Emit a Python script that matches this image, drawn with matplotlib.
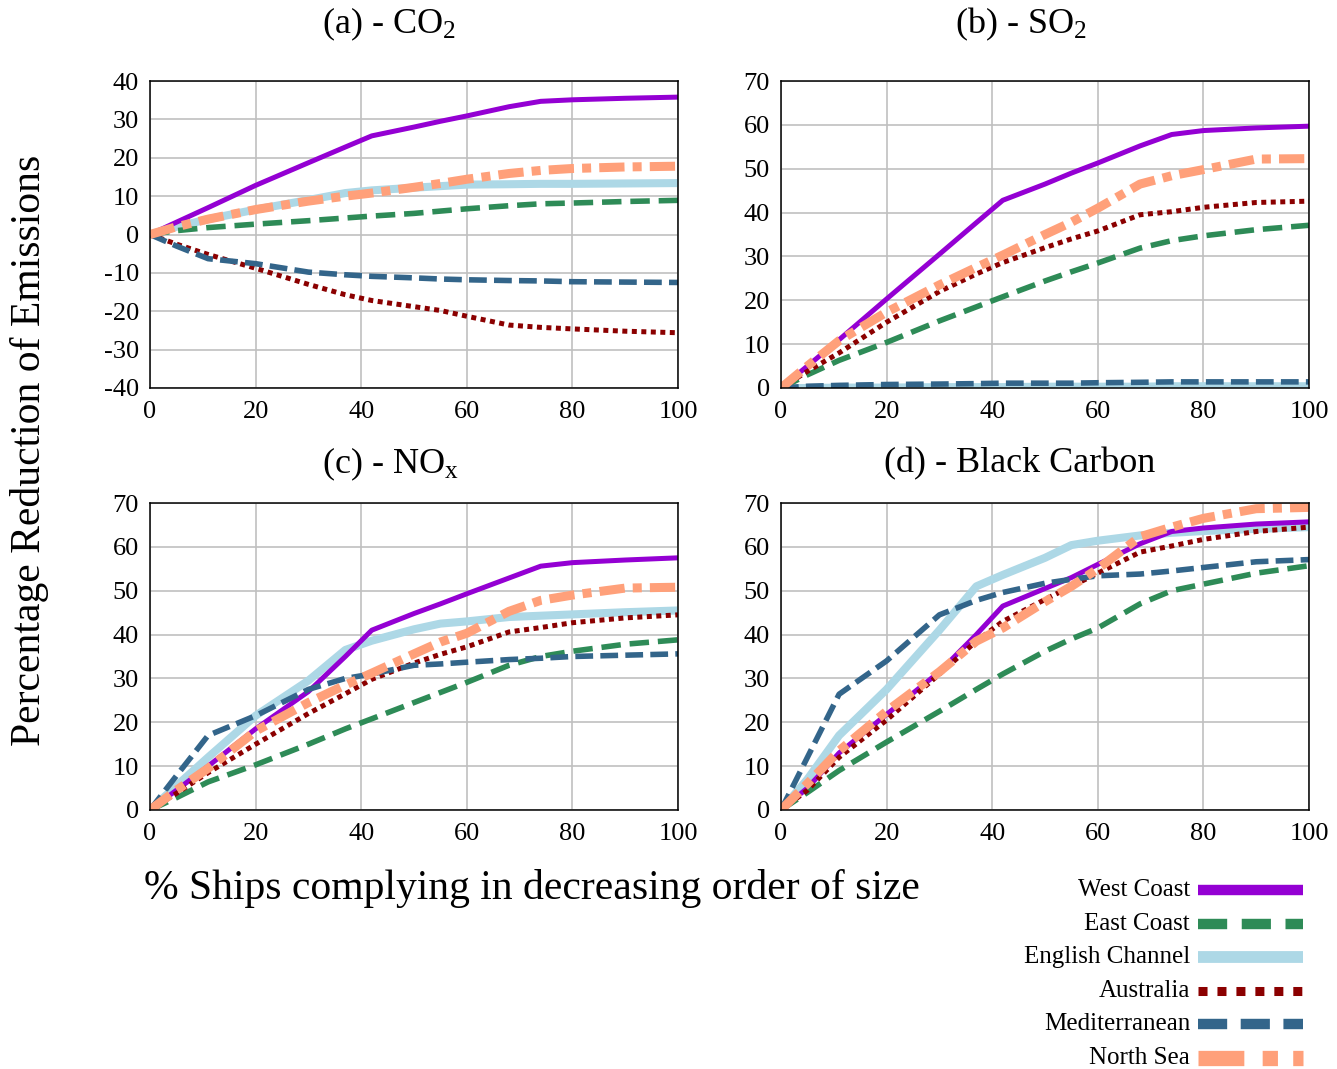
import matplotlib
matplotlib.use("Agg")
import matplotlib.pyplot as plt
from matplotlib.lines import Line2D

plt.rcParams['font.family'] = ['Liberation Serif', 'DejaVu Serif']
plt.rcParams['mathtext.default'] = 'regular'
plt.rcParams['axes.unicode_minus'] = False

# ---------------- data ----------------
pct_ships = [0, 5, 11, 20, 30, 37, 42, 50, 55, 60, 68, 74, 80, 90, 100]

series_names = ["West Coast", "East Coast", "English Channel", "Australia",
                "Mediterranean", "North Sea"]

co2_west = [0, 3.2, 7, 12.8, 18.7, 22.8, 25.7, 28.0, 29.5, 30.9, 33.3, 34.7, 35.1, 35.5, 35.8]
co2_east = [0, 1.0, 1.8, 2.7, 3.6, 4.3, 4.8, 5.5, 6.1, 6.7, 7.5, 8.0, 8.2, 8.6, 8.9]
co2_channel = [0, 2, 4, 6.5, 9, 10.8, 11.5, 12.2, 12.6, 13, 13.1, 13.2, 13.2, 13.3, 13.4]
co2_australia = [0, -2.5, -5.2, -8.8, -13, -15.7, -17.2, -18.8, -19.8, -21.3, -23.6, -24.2, -24.6, -25.2, -25.6]
co2_med = [0, -3, -6.3, -7.6, -9.8, -10.5, -10.9, -11.3, -11.6, -11.8, -12.0, -12.1, -12.3, -12.4, -12.5]
co2_north = [0, 2, 4, 6.5, 8.7, 10, 10.8, 12.3, 13.3, 14.4, 15.9, 16.7, 17.2, 17.6, 17.8]

so2_west = [0, 5, 11, 20.3, 30.5, 37.7, 42.8, 46.5, 49, 51.3, 55.2, 57.8, 58.7, 59.3, 59.7]
so2_east = [0, 3, 6.3, 10.4, 15.3, 18.5, 20.8, 24.4, 26.5, 28.5, 31.9, 33.6, 34.7, 36.1, 37.1]
so2_channel = [0, 0, 0.1, 0.1, 0.2, 0.2, 0.2, 0.3, 0.3, 0.3, 0.3, 0.4, 0.4, 0.4, 0.4]
so2_australia = [0, 3.8, 8, 15, 22, 26, 28.6, 32, 34, 35.8, 39.5, 40.2, 41.2, 42.3, 42.6]
so2_med = [0, 0.4, 0.6, 0.8, 0.9, 1.0, 1.1, 1.1, 1.1, 1.2, 1.3, 1.4, 1.4, 1.4, 1.4]
so2_north = [0, 5, 10.8, 17.3, 23.5, 27.5, 30.3, 35, 37.8, 41, 46.5, 48.4, 49.8, 52.2, 52.3]

nox_west = [0, 4.5, 10, 18.5, 27, 35, 41, 44.8, 47, 49.3, 52.9, 55.6, 56.4, 57, 57.5]
nox_east = [0, 2.8, 6.4, 10.3, 15, 18.5, 20.8, 24.5, 26.8, 29.1, 33, 35, 36.2, 37.8, 38.8]
nox_channel = [0, 5.5, 12, 21.5, 29.5, 36.5, 38.6, 41.2, 42.5, 43, 44, 44.3, 44.6, 45.1, 45.5]
nox_australia = [0, 3.8, 8.5, 15, 22, 26.5, 29.8, 33.5, 35.5, 37.2, 40.6, 41.6, 42.7, 43.8, 44.5]
nox_med = [0, 7.8, 17, 21.5, 27.5, 30, 31, 33, 33.3, 33.7, 34.3, 34.6, 35, 35.3, 35.6]
nox_north = [0, 4.5, 9.5, 18, 24.5, 28.5, 31.2, 35.6, 38.3, 40.3, 45.3, 47.8, 49, 50.6, 50.8]

bc_west = [0, 5, 13, 21.8, 31.5, 40, 46.5, 50.5, 53, 56, 60.7, 63.5, 64.3, 65.2, 65.7]
bc_east = [0, 4, 9, 15.5, 22.5, 27.5, 31, 36.2, 39, 41.5, 47, 50, 51.5, 54, 55.7]
bc_channel = [0, 7, 17, 27.5, 41, 51, 53.6, 57.5, 60.4, 61.4, 62.6, 63.2, 63.6, 64.1, 64.5]
bc_australia = [0, 4.5, 12, 20.5, 31, 38.5, 43, 48, 51, 54, 58.8, 60.2, 61.7, 63.5, 64.5]
bc_med = [0, 12, 26.4, 34, 44.5, 47.8, 49.6, 51.7, 52.6, 53.4, 53.8, 54.5, 55.3, 56.6, 57.1]
bc_north = [0, 6, 13.5, 22.5, 31.5, 38.5, 41.5, 47.5, 51, 55, 62.3, 64.5, 66.5, 68.7, 69]

panel_titles = [r"(a) - CO$_2$", r"(b) - SO$_2$", r"(c) - NO$_x$", "(d) - Black Carbon"]
panel_data = [
    [co2_west, co2_east, co2_channel, co2_australia, co2_med, co2_north],
    [so2_west, so2_east, so2_channel, so2_australia, so2_med, so2_north],
    [nox_west, nox_east, nox_channel, nox_australia, nox_med, nox_north],
    [bc_west, bc_east, bc_channel, bc_australia, bc_med, bc_north],
]
panel_ylims = [(-40, 40), (0, 70), (0, 70), (0, 70)]

# ---------------- styles ----------------
styles = {
    "West Coast": dict(color="#9400D3", lw=3.6, ls="-"),
    "East Coast": dict(color="#2E8B57", lw=4.0, ls=(0, (3.5, 1.6))),
    "English Channel": dict(color="#ADD8E6", lw=5.8, ls="-"),
    "Australia": dict(color="#8B0000", lw=3.6, ls=(0, (1, 0.9))),
    "Mediterranean": dict(color="#33658A", lw=4.0, ls=(0, (3.2, 1.3))),
    "North Sea": dict(color="#FFA07A", lw=6.5, ls=(0, (2.8, 0.9, 1.0, 0.9))),
}
draw_order = ["English Channel", "West Coast", "East Coast", "Australia",
              "Mediterranean", "North Sea"]

W, H = 1337, 1069
fig = plt.figure(figsize=(W / 100, H / 100), dpi=100)

def px_axes(l, t, r, b):
    return [l / W, 1 - b / H, (r - l) / W, (b - t) / H]

axes_boxes = [(150, 81, 678, 388), (781, 81, 1309, 388),
              (150, 503, 678, 810), (781, 503, 1309, 810)]
title_pos = [(389, 24), (1021, 24), (390, 464), (1020, 464)]

for i, box in enumerate(axes_boxes):
    ax = fig.add_axes(px_axes(*box))
    for name in draw_order:
        k = series_names.index(name)
        st = styles[name]
        ax.plot(pct_ships, panel_data[i][k], color=st["color"], lw=st["lw"],
                linestyle=st["ls"], dash_capstyle="butt", solid_capstyle="butt",
                solid_joinstyle="round", dash_joinstyle="round", clip_on=True)
    lo, hi = panel_ylims[i]
    ax.set_xlim(0, 100)
    ax.set_ylim(lo, hi)
    ax.set_xticks(range(0, 101, 20))
    ax.set_yticks(range(lo, hi + 1, 10))
    ax.grid(True, color="#c0c0c0", lw=1.2)
    ax.set_axisbelow(True)
    ax.tick_params(length=0, labelsize=19)
    ax.tick_params(axis="x", pad=9)
    ax.tick_params(axis="y", pad=8)
    for sp in ax.spines.values():
        sp.set_linewidth(1.1)
        sp.set_color("black")
    tx, ty = title_pos[i]
    fig.text(tx / W, 1 - ty / H, panel_titles[i], ha="center", va="center", fontsize=26)

fig.text(30 / W, 1 - 450 / H, "Percentage Reduction of Emissions", rotation=90,
         ha="center", va="center", fontsize=30)
fig.text(532 / W, 1 - 889 / H, "% Ships complying in decreasing order of size",
         ha="center", va="center", fontsize=30)

# ---------------- legend ----------------
lax = fig.add_axes([0, 0, 1, 1], facecolor="none")
lax.set_xlim(0, W)
lax.set_ylim(H, 0)
lax.axis("off")
row_y = [890, 924, 957, 991, 1024, 1058]
leg_lw = {"West Coast": 7.5, "East Coast": 7.5, "English Channel": 8.5,
          "Australia": 6.5, "Mediterranean": 7.5, "North Sea": 11}
leg_ls = {"West Coast": "-", "East Coast": (0, (2.8, 1.4)), "English Channel": "-",
          "Australia": (0, (1, 1.1)), "Mediterranean": (0, (2.8, 1.3)),
          "North Sea": (0, (3.0, 1.2, 1.0, 1.0))}
for name, yy in zip(series_names, row_y):
    st = styles[name]
    lax.add_line(Line2D([1198, 1303], [yy, yy], color=st["color"], lw=leg_lw[name],
                        linestyle=leg_ls[name], dash_capstyle="butt",
                        solid_capstyle="butt"))
    lax.text(1190, yy, name, ha="right", va="center", fontsize=18)

fig.savefig("out.png", dpi=100)
